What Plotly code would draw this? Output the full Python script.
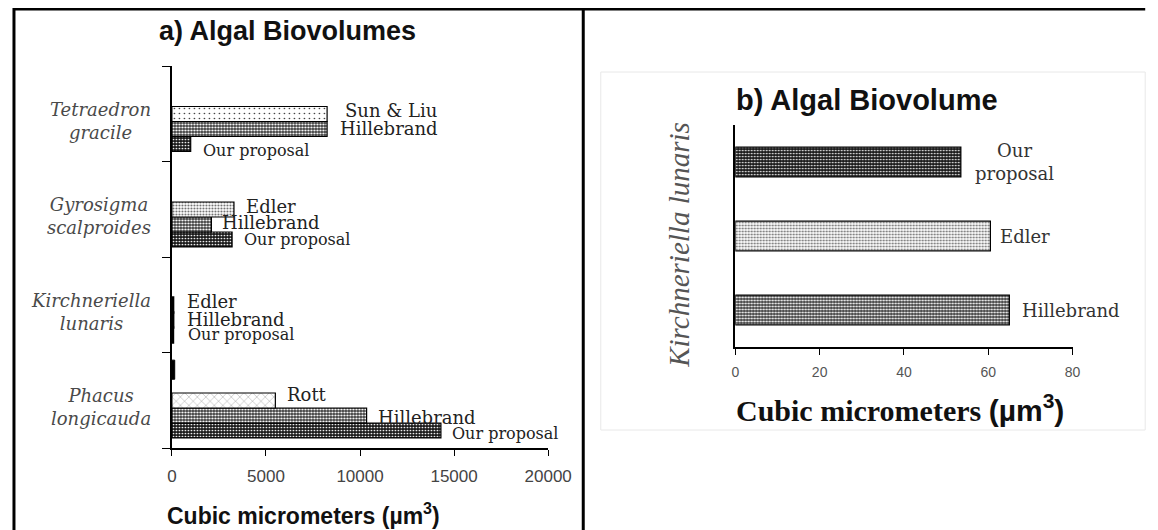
import plotly.graph_objects as go

# The page body has an 8px margin, so the figure is 8px smaller than the window
# and every reference pixel coordinate is shifted by 8.
W, H = 1150, 522
OFF = 8

# ---------------- data ----------------
# panel a (bottom -> top)
species_a = ["Phacus longicauda", "Kirchneriella lunaris", "Gyrosigma scalproides", "Tetraedron gracile"]
species_a_labels = ["Phacus<br>longicauda", "Kirchneriella<br>lunaris", "Gyrosigma<br>scalproides", "Tetraedron<br>gracile"]
our_proposal_a = [14300, 54, 3200, 1000]
hillebrand_a = [10350, 65, 2100, 8250]
sun_liu_species = ["Tetraedron gracile"]
sun_liu_a = [8250]
edler_species = ["Gyrosigma scalproides", "Kirchneriella lunaris"]
edler_a = [3300, 60.5]
rott_species = ["Phacus longicauda"]
rott_a = [5500]
extra_species = ["Phacus longicauda"]
extra_a = [150]
x_ticks_a = [0, 5000, 10000, 15000, 20000]

# panel b (bottom -> top)
methods_b = ["Hillebrand", "Edler", "Our proposal"]
methods_b_labels = ["Hillebrand", "Edler", "Our<br>proposal"]
values_b = [65, 60.5, 53.5]
x_ticks_b = [0, 20, 40, 60, 80]


def px(x):
    return (x - OFF) / W


def py(y):
    return 1 - (y - OFF) / H


# ---------------- styles ----------------
OUR = dict(shape=".", fgcolor="#ffffff", bgcolor="#1a1a1a", size=3, solidity=0.25, fillmode="replace")
HIL = dict(shape=".", fgcolor="#ffffff", bgcolor="#3a3a3a", size=3, solidity=0.42, fillmode="replace")
EDL = dict(shape=".", fgcolor="#6a6a6a", bgcolor="#ffffff", size=3, solidity=0.35, fillmode="replace")
SUN = dict(shape=".", fgcolor="#333333", bgcolor="#ffffff", size=5, solidity=0.08, fillmode="replace")
ROT = dict(shape="x", fgcolor="#666666", bgcolor="#ffffff", size=6, solidity=0.1, fillmode="replace")

SLOT_W = 0.157
slot_offset = {1: -0.395, 2: -0.395 + SLOT_W, 3: -0.395 + 2 * SLOT_W}

fig = go.Figure()


def line_widths(cats):
    # the tiny Kirchneriella bars render as thick black outlines
    return [2.6 if c == "Kirchneriella lunaris" else 1.2 for c in cats]


def add_bar_a(cats, vals, pat, slot, name):
    fig.add_trace(go.Bar(
        y=cats, x=vals, orientation="h", name=name,
        width=SLOT_W, offset=slot_offset[slot],
        marker=dict(color=pat["bgcolor"], pattern=pat,
                    line=dict(color="black", width=line_widths(cats))),
        xaxis="x", yaxis="y", showlegend=False, hoverinfo="skip",
    ))


add_bar_a(species_a, our_proposal_a, OUR, 1, "Our proposal")
add_bar_a(species_a, hillebrand_a, HIL, 2, "Hillebrand")
add_bar_a(sun_liu_species, sun_liu_a, SUN, 3, "Sun & Liu")
add_bar_a(edler_species, edler_a, EDL, 3, "Edler")
add_bar_a(rott_species, rott_a, ROT, 3, "Rott")
fig.add_trace(go.Bar(
    y=extra_species, x=extra_a, orientation="h", width=0.2, offset=0.22,
    marker=dict(color="black", line=dict(color="black", width=1)),
    xaxis="x", yaxis="y", showlegend=False, hoverinfo="skip",
))

# panel b bars
pats_b = [HIL, EDL, OUR]
for cat, val, pat in zip(methods_b, values_b, pats_b):
    fig.add_trace(go.Bar(
        y=[cat], x=[val], orientation="h", width=0.4,
        marker=dict(color=pat["bgcolor"], pattern=pat, line=dict(color="black", width=1.2)),
        xaxis="x2", yaxis="y2", showlegend=False, hoverinfo="skip",
    ))

ann = []
LBL_FONT = "DejaVu Serif"

# bar labels panel a: (species, value, text, slot, xshift, yshift, size)
labels_a = [
    (species_a[3], sun_liu_a[0], "Sun & Liu", 3, 16, 3, 18),
    (species_a[3], hillebrand_a[3], "Hillebrand", 2, 11, 0, 18),
    (species_a[3], our_proposal_a[3], "Our proposal", 1, 10, -7, 16),
    (species_a[2], edler_a[0], "Edler", 3, 10, 3, 18),
    (species_a[2], hillebrand_a[2], "Hillebrand", 2, 9, 2, 18),
    (species_a[2], our_proposal_a[2], "Our proposal", 1, 10, 0, 16),
    (species_a[1], edler_a[1], "Edler", 3, 12, 3, 18),
    (species_a[1], hillebrand_a[1], "Hillebrand", 2, 12, 0, 18),
    (species_a[1], our_proposal_a[1], "Our proposal", 1, 13, 0, 16),
    (species_a[0], rott_a[0], "Rott", 3, 10, 6, 18),
    (species_a[0], hillebrand_a[0], "Hillebrand", 2, 9, -2, 18),
    (species_a[0], our_proposal_a[0], "Our proposal", 1, 9, -3, 16),
]
TOP_A, BOT_A = 66, 448
cat_px = (BOT_A - TOP_A) / 4.0
for sp, val, txt, slot, xs, ys, fs in labels_a:
    center_units = slot_offset[slot] + SLOT_W / 2
    ann.append(dict(
        x=val, y=sp, xref="x", yref="y", text=txt, showarrow=False,
        xanchor="left", yanchor="middle", xshift=xs, yshift=center_units * cat_px + ys,
        font=dict(family=LBL_FONT, size=fs, color="#222222"),
    ))

# category labels panel a
for sp, lab in zip(species_a, species_a_labels):
    ann.append(dict(
        x=px(152), y=sp, xref="paper", yref="y", text=lab, showarrow=False,
        xanchor="right", yanchor="middle", align="center", yshift=-7,
        font=dict(family="DejaVu Serif", size=18, color="#4a4a4a", style="italic"),
    ))

# bar labels panel b
xs_b = [11, 8, 12]
for cat, val, lab, xs in zip(methods_b, values_b, methods_b_labels, xs_b):
    ann.append(dict(
        x=val, y=cat, xref="x2", yref="y2", text=lab, showarrow=False,
        xanchor="left", yanchor="middle", align="center", xshift=xs,
        font=dict(family=LBL_FONT, size=18, color="#333333"),
    ))

# titles
ann.append(dict(x=px(290), y=py(31), xref="paper", yref="paper", showarrow=False,
                text="<b>a) Algal Biovolumes</b>", xanchor="center", yanchor="middle",
                font=dict(family="Arial", size=27, color="#111111")))
ann.append(dict(x=px(306), y=py(514), xref="paper", yref="paper", showarrow=False,
                text="<b>Cubic micrometers (µm<sup>3</sup>)</b>", xanchor="center", yanchor="middle",
                font=dict(family="Arial", size=23, color="#111111")))
ann.append(dict(x=px(884), y=py(100), xref="paper", yref="paper", showarrow=False,
                text="<b>b) Algal Biovolume</b>", xanchor="center", yanchor="middle",
                font=dict(family="Arial", size=29, color="#111111")))
ann.append(dict(x=px(918), y=py(408), xref="paper", yref="paper", showarrow=False,
                text="<b>Cubic micrometers </b><span style='font-family:Arial'><b>(µm<sup>3</sup>)</b></span>",
                xanchor="center", yanchor="middle",
                font=dict(family="Liberation Serif", size=30, color="#111111")))
ann.append(dict(x=px(691), y=py(245), xref="paper", yref="paper", showarrow=False,
                text="Kirchneriella lunaris", textangle=-90, xanchor="center", yanchor="middle",
                font=dict(family="Liberation Serif", size=29, color="#555555", style="italic")))

shapes = [
    dict(type="line", xref="paper", yref="paper", x0=px(8), x1=1.01, y0=py(9), y1=py(9),
         line=dict(color="black", width=3)),
    dict(type="line", xref="paper", yref="paper", x0=px(9), x1=px(9), y0=py(8), y1=-0.02,
         line=dict(color="black", width=3)),
    dict(type="line", xref="paper", yref="paper", x0=px(593), x1=px(593), y0=py(8), y1=-0.02,
         line=dict(color="black", width=3)),
    dict(type="rect", xref="paper", yref="paper", x0=px(611), x1=1.01, y0=py(430), y1=py(72),
         line=dict(color="#e8e8e8", width=1)),
]

fig.update_layout(
    width=W, height=H, margin=dict(l=0, r=0, t=0, b=0),
    paper_bgcolor="white", plot_bgcolor="rgba(0,0,0,0)",
    barmode="overlay", showlegend=False,
    annotations=ann, shapes=shapes,
    xaxis=dict(domain=[px(171), px(557)], range=[0, 20000], tickvals=x_ticks_a,
               ticktext=[str(v) for v in x_ticks_a],
               ticks="outside", ticklen=6, tickcolor="black", showline=True, linecolor="black",
               linewidth=1.5, showgrid=False, zeroline=False, anchor="y",
               ticklabelstandoff=6,
               tickfont=dict(family="Arial", size=17, color="#444444")),
    yaxis=dict(domain=[py(BOT_A), py(TOP_A)], type="category", categoryorder="array",
               categoryarray=species_a, range=[-0.5, 3.5], showticklabels=False,
               ticks="outside", tickson="boundaries", ticklen=8, tickcolor="black",
               showline=True, linecolor="black", linewidth=1.5, showgrid=False, anchor="x"),
    xaxis2=dict(domain=[px(749), px(1095)], range=[0, 80], tickvals=x_ticks_b,
                ticktext=[str(v) for v in x_ticks_b],
                ticks="outside", ticklen=6, tickcolor="black", showline=True, linecolor="black",
                linewidth=1.5, showgrid=False, zeroline=False, anchor="y2",
                ticklabelstandoff=5,
                tickfont=dict(family="Arial", size=14, color="#555555")),
    yaxis2=dict(domain=[py(347), py(125)], type="category", categoryorder="array",
                categoryarray=methods_b, range=[-0.5, 2.5], showticklabels=False,
                ticks="", showline=True, linecolor="black", linewidth=1.5, showgrid=False,
                anchor="x2"),
)

fig.write_html("out.html")
